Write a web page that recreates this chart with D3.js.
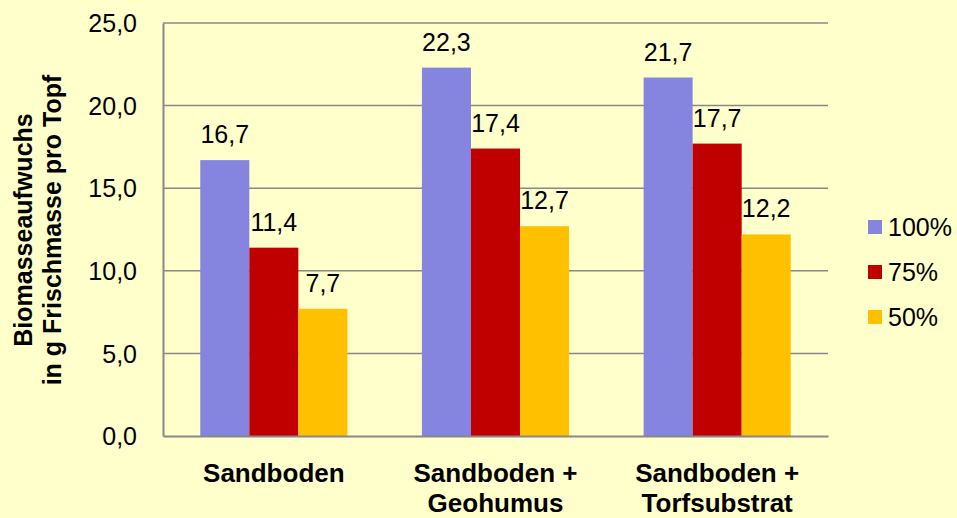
<!DOCTYPE html>
<html>
<head>
<meta charset="utf-8">
<script src="https://cdn.jsdelivr.net/npm/d3@7"></script>
<style>
  body { margin: 0; background: #FFFFCC; }
  svg { display: block; font-family: "Liberation Sans", Arial, sans-serif; }
</style>
</head>
<body>
<div id="chart"></div>
<script>
const categories = [["Sandboden"], ["Sandboden +", "Geohumus"], ["Sandboden +", "Torfsubstrat"]];
const seriesNames = ["100%", "75%", "50%"];
const seriesColors = ["#8585E0", "#C00000", "#FFC000"];
const values100 = [16.7, 22.3, 21.7];
const values75 = [11.4, 17.4, 17.7];
const values50 = [7.7, 12.7, 12.2];
const yTicks = [0, 5, 10, 15, 20, 25];

const series = [values100, values75, values50];

const width = 957;
const height = 518;
const margin = {top: 23, bottom: 82, left: 163, right: 129};

const svg = d3.select("#chart")
              .append("svg")
              .attr("width", width)
              .attr("height", height);

svg.append("rect")
   .attr("width", width)
   .attr("height", height)
   .attr("fill", "#FFFFCC");

const x0 = d3.scaleBand()
             .domain(d3.range(categories.length))
             .range([margin.left, width - margin.right]);

const x1 = d3.scaleBand()
             .domain(d3.range(seriesNames.length))
             .range([0, x0.bandwidth()])
             .paddingInner(0)
             .paddingOuter(0.76);

const y = d3.scaleLinear()
            .domain([0, 25])
            .range([height - margin.bottom, margin.top]);

const fmt = d => d3.format(".1f")(d).replace(".", ",");

// gridlines
svg.append("g")
   .selectAll("line")
   .data(yTicks.filter(d => d > 0))
   .join("line")
   .attr("x1", margin.left)
   .attr("x2", width - margin.right)
   .attr("y1", d => y(d))
   .attr("y2", d => y(d))
   .attr("stroke", "#888888")
   .attr("stroke-width", 1.5);

// bars
const groups = svg.append("g")
   .selectAll("g")
   .data(categories)
   .join("g")
   .attr("transform", (d, i) => `translate(${x0(i)},0)`);

groups.selectAll("rect")
   .data((d, i) => series.map((s, j) => ({s: j, v: s[i]})))
   .join("rect")
   .attr("x", d => x1(d.s))
   .attr("y", d => y(d.v))
   .attr("width", x1.bandwidth())
   .attr("height", d => y(0) - y(d.v))
   .attr("fill", d => seriesColors[d.s]);

groups.selectAll("text")
   .data((d, i) => series.map((s, j) => ({s: j, v: s[i]})))
   .join("text")
   .attr("x", d => x1(d.s) + x1.bandwidth() / 2)
   .attr("y", d => y(d.v) - 17)
   .attr("text-anchor", "middle")
   .attr("font-size", "25px")
   .attr("fill", "#000")
   .text(d => fmt(d.v));

// y axis
const yAxis = g => {
   g.attr("transform", `translate(${margin.left},0)`)
    .call(d3.axisLeft(y).tickValues(yTicks).tickSize(0).tickPadding(26).tickFormat(fmt))
    .attr("font-size", "25px")
    .attr("font-family", null);
   g.select(".domain").attr("stroke", "#888888").attr("stroke-width", 2);
   g.selectAll(".tick text").attr("fill", "#000").attr("dy", "0.35em");
};

// x axis
const xAxis = g => {
   g.attr("transform", `translate(0,${height - margin.bottom})`)
    .call(d3.axisBottom(x0).tickSize(0).tickFormat(""))
    .attr("font-family", null);
   g.select(".domain").attr("stroke", "#888888").attr("stroke-width", 2);
   g.selectAll(".tick").each(function(d) {
      const t = d3.select(this).append("text")
         .attr("fill", "#000")
         .attr("font-size", "26px")
         .attr("font-weight", "bold")
         .attr("text-anchor", "middle");
      categories[d].forEach((line, k) => {
         t.append("tspan").attr("x", 0).attr("y", 46 + k * 30).text(line);
      });
   });
};

svg.append("g").call(yAxis);
svg.append("g").call(xAxis);

// y axis title
const title = svg.append("text")
   .attr("transform", "translate(0,230) rotate(-90)")
   .attr("text-anchor", "middle")
   .attr("font-size", "25px")
   .attr("font-weight", "bold")
   .attr("fill", "#000");
title.append("tspan").attr("x", 0).attr("y", 32).text("Biomasseaufwuchs");
title.append("tspan").attr("x", 0).attr("y", 61).text("in g Frischmasse pro Topf");

// legend
const legend = svg.append("g")
   .selectAll("g")
   .data(seriesNames)
   .join("g")
   .attr("transform", (d, i) => `translate(868,${227 + i * 45})`);

legend.append("rect")
   .attr("x", 0)
   .attr("y", -7)
   .attr("width", 14)
   .attr("height", 14)
   .attr("fill", (d, i) => seriesColors[i]);

legend.append("text")
   .attr("x", 20)
   .attr("y", 0)
   .attr("dy", "0.35em")
   .attr("font-size", "25px")
   .attr("fill", "#000")
   .text(d => d);
</script>
</body>
</html>
